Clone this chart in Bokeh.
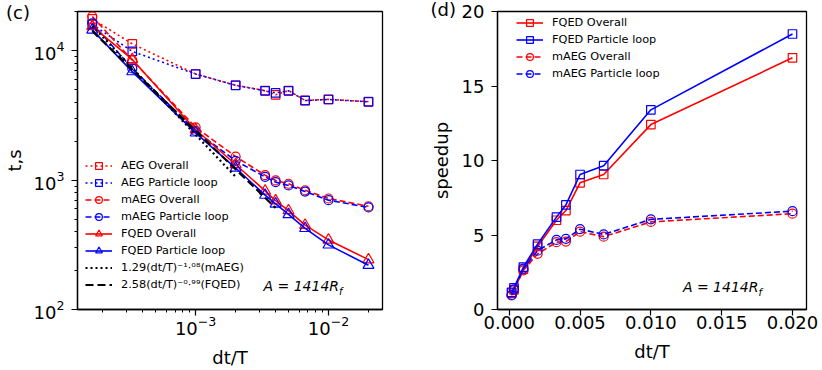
from bokeh.plotting import figure
from bokeh.models import Range1d, FixedTicker, Legend, LegendItem, Label, NumeralTickFormatter
from bokeh.layouts import row
from bokeh.embed import file_html
from bokeh.resources import INLINE

# ---------------- data ----------------
dt = [1/6000, 1/3000, 0.001, 0.002, 1/300, 0.004, 0.005, 1/150, 0.01, 0.02]

t_aeg_overall = [17600, 11300, 6610, 5410, 4920, 4560, 4920, 4130, 4210, 4040]
t_aeg_loop = [16000, 9880, 6600, 5400, 4900, 4720, 4900, 4120, 4200, 4030]
t_maeg_overall = [18400, 8450, 2560, 1520, 1092, 994, 937, 835, 721, 628]
t_maeg_loop = [16300, 7300, 2400, 1410, 1060, 965, 910, 815, 700, 615]
t_fqed_overall = [15400, 8560, 2450, 1320, 826, 693, 582, 449, 345, 243]
t_fqed_loop = [14500, 6900, 2320, 1240, 766, 655, 543, 424, 316, 220]

fit_maeg = (1.29, -1.08)
fit_fqed = (2.58, -0.99)
fit_maeg_n = 4
fit_fqed_n = 6

s_fqed_overall = [1.10, 1.32, 2.70, 4.23, 5.99, 6.64, 8.50, 9.06, 12.41, 16.89]
s_fqed_loop = [1.15, 1.45, 2.85, 4.39, 6.20, 7.02, 9.06, 9.65, 13.40, 18.49]
s_maeg_overall = [0.94, 1.30, 2.63, 3.73, 4.52, 4.56, 5.22, 4.89, 5.88, 6.43]
s_maeg_loop = [0.98, 1.35, 2.75, 3.95, 4.67, 4.74, 5.39, 5.04, 6.05, 6.60]

x_major_log = [1e-3, 1e-2]
x_minor_log = [k * 10.0 ** e for e in (-4, -3, -2) for k in range(2, 10)]
y_major_log = [1e2, 1e3, 1e4]
y_minor_log = [k * 10.0 ** e for e in (2, 3, 4) for k in range(2, 10)]
speed_x_ticks = [0, 0.005, 0.01, 0.015, 0.02]
speed_y_ticks = [0, 5, 10, 15, 20]

# ---------------- style ----------------
FONT = "DejaVu Sans"
RED = "#ff0000"
BLUE = "#0000ff"
H = 370
BOTTOM = 59
LW = 1.6
DOT = "2 3"
DASH = "6 3"


def style(p, tag, tag_offset, tag_standoff):
    p.xgrid.visible = False
    p.ygrid.visible = False
    p.outline_line_color = "black"
    p.outline_line_width = 1.3
    p.outline_line_alpha = 1.0
    p.background_fill_color = "white"
    p.border_fill_color = "white"
    # panel tag "(c)" / "(d)" drawn as a title in the top border
    p.title.text = tag
    p.title.align = "left"
    p.title.vertical_align = "bottom"
    p.title.offset = tag_offset
    p.title.standoff = tag_standoff
    p.title.text_font = FONT
    p.title.text_font_size = "18px"
    p.title.text_font_style = "normal"
    p.title.text_color = "black"
    for ax in p.axis:
        ax.axis_line_color = "black"
        ax.axis_line_width = 1.3
        ax.major_tick_out = 6
        ax.major_tick_in = 0
        ax.minor_tick_out = 3
        ax.minor_tick_in = 0
        ax.major_tick_line_width = 1.2
        ax.minor_tick_line_width = 1.0
        ax.major_label_text_font = FONT
        ax.major_label_text_font_size = "18px"
        ax.major_label_text_color = "black"
        ax.axis_label_text_font = FONT
        ax.axis_label_text_font_size = "18px"
        ax.axis_label_text_font_style = "normal"
        ax.axis_label_text_color = "black"
    for ax in p.xaxis:
        ax.major_label_standoff = 0
        ax.axis_label_standoff = 9
    for ax in p.yaxis:
        ax.major_label_standoff = 7
        ax.axis_label_standoff = 6


def series(p, x, y, color, dash, marker, size):
    l = p.line(x, y, line_color=color, line_width=LW, line_dash=dash)
    s = p.scatter(x, y, marker=marker, size=size, fill_color=None,
                  line_color=color, line_width=1.2)
    return [l, s]


def make_legend(items, loc):
    return Legend(items=items, location=loc, orientation="vertical",
                  glyph_width=27, glyph_height=17, label_height=17, spacing=0,
                  padding=0, margin=0, label_standoff=9,
                  border_line_alpha=0, background_fill_alpha=0,
                  label_text_font=FONT, label_text_font_size="11.3px",
                  label_text_color="black")


def annot(p, fw, fh):
    p.add_layout(Label(x=0.6 * fw, y=0.05 * fh, x_units="screen", y_units="screen",
                       text="A = 1414R", text_font=FONT, text_font_size="14px",
                       text_font_style="italic", text_color="black"))
    p.add_layout(Label(x=0.6 * fw + 75.5, y=0.05 * fh - 3, x_units="screen", y_units="screen",
                       text="f", text_font=FONT, text_font_size="10px",
                       text_font_style="italic", text_color="black"))


# ---------------- left panel (c) ----------------
W1, L1, R1, T1 = 410, 72, 28, 8
FW1 = W1 - L1 - R1
FH1 = H - T1 - BOTTOM
p1 = figure(width=W1, height=H, x_axis_type="log", y_axis_type="log",
            x_range=Range1d(1.29e-4, 0.0255), y_range=Range1d(100, 20100),
            output_backend="svg", toolbar_location=None,
            min_border_left=L1, min_border_right=R1,
            min_border_top=T1, min_border_bottom=BOTTOM)
p1.xaxis.ticker = FixedTicker(ticks=x_major_log, minor_ticks=x_minor_log)
p1.yaxis.ticker = FixedTicker(ticks=y_major_log, minor_ticks=y_minor_log)
p1.xaxis.axis_label = "dt/T"
p1.yaxis.axis_label = "t,s"
style(p1, "(c)", -71.5, -23)

r_aeg_o = series(p1, dt, t_aeg_overall, RED, DOT, "square", 8.5)
r_aeg_l = series(p1, dt, t_aeg_loop, BLUE, DOT, "square", 8.5)
r_maeg_o = series(p1, dt, t_maeg_overall, RED, DASH, "circle", 9)
r_maeg_l = series(p1, dt, t_maeg_loop, BLUE, DASH, "circle", 9)
r_fqed_o = series(p1, dt, t_fqed_overall, RED, "solid", "triangle", 11)
r_fqed_l = series(p1, dt, t_fqed_loop, BLUE, "solid", "triangle", 11)

xm = dt[:fit_maeg_n]
ym = [fit_maeg[0] * v ** fit_maeg[1] for v in xm]
xf = dt[:fit_fqed_n]
yf = [fit_fqed[0] * v ** fit_fqed[1] for v in xf]
r_fit_m = p1.line(xm, ym, line_color="black", line_width=2.2, line_dash="2 3")
r_fit_f = p1.line(xf, yf, line_color="black", line_width=2.2, line_dash="8 4")

items1 = [
    LegendItem(label="AEG Overall", renderers=r_aeg_o),
    LegendItem(label="AEG Particle loop", renderers=r_aeg_l),
    LegendItem(label="mAEG Overall", renderers=r_maeg_o),
    LegendItem(label="mAEG Particle loop", renderers=r_maeg_l),
    LegendItem(label="FQED Overall", renderers=r_fqed_o),
    LegendItem(label="FQED Particle loop", renderers=r_fqed_l),
    LegendItem(label="1.29(dt/T)\u207b\u00b9\u00b7\u2070\u2078(mAEG)", renderers=[r_fit_m]),
    LegendItem(label="2.58(dt/T)\u207b\u2070\u00b7\u2079\u2079(FQED)", renderers=[r_fit_f]),
]
p1.add_layout(make_legend(items1, (8, 16)))
annot(p1, FW1, FH1)

# ---------------- right panel (d) ----------------
W2, L2, R2, T2 = 412, 87, 16, 11
FW2 = W2 - L2 - R2
FH2 = H - T2 - BOTTOM
p2 = figure(width=W2, height=H,
            x_range=Range1d(-0.00083, 0.02099), y_range=Range1d(0, 20),
            output_backend="svg", toolbar_location=None,
            min_border_left=L2, min_border_right=R2,
            min_border_top=T2, min_border_bottom=BOTTOM)
p2.xaxis.ticker = FixedTicker(ticks=speed_x_ticks)
p2.yaxis.ticker = FixedTicker(ticks=speed_y_ticks)
p2.xaxis.formatter = NumeralTickFormatter(format="0.000")
p2.xaxis.axis_label = "dt/T"
p2.yaxis.axis_label = "speedup"
style(p2, "(d)", -67, -17)
p2.yaxis.axis_label_standoff = 7

q_fo = series(p2, dt, s_fqed_overall, RED, "solid", "square", 8.5)
q_fl = series(p2, dt, s_fqed_loop, BLUE, "solid", "square", 8.5)
q_mo = series(p2, dt, s_maeg_overall, RED, DASH, "circle", 9)
q_ml = series(p2, dt, s_maeg_loop, BLUE, DASH, "circle", 9)

items2 = [
    LegendItem(label="FQED Overall", renderers=q_fo),
    LegendItem(label="FQED Particle loop", renderers=q_fl),
    LegendItem(label="mAEG Overall", renderers=q_mo),
    LegendItem(label="mAEG Particle loop", renderers=q_ml),
]
p2.add_layout(make_legend(items2, (19, FH2 - 5 - 68)))
annot(p2, FW2, FH2)

layout = row(p1, p2)
open("out.html", "w").write(file_html(layout, INLINE))
